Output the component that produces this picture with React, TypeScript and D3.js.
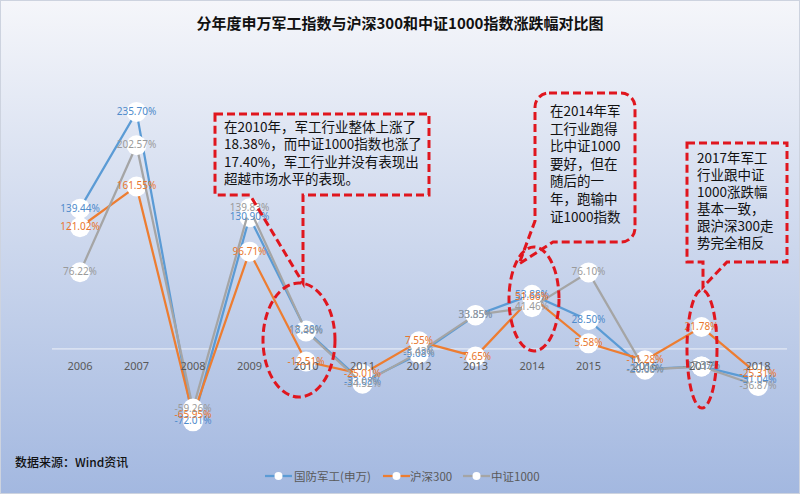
import React from 'react';
import * as d3 from 'd3';

const years = ['2006', '2007', '2008', '2009', '2010', '2011', '2012', '2013', '2014', '2015', '2016', '2017', '2018'];
const junGong = [139.44, 235.7, -72.01, 130.9, 18.38, -33.08, -5.08, 33.35, 53.88, 28.5, -20.06, -17.37, -31.04];
const hs300 = [121.02, 161.55, -65.95, 96.71, -12.51, -25.01, 7.55, -7.65, 51.66, 5.58, -11.28, 21.78, -25.31];
const zz1000 = [76.22, 202.57, -59.26, 139.83, 17.4, -34.52, -3.43, 33.85, 41.46, 76.1, -20.68, -17.35, -36.87];

const seriesNames = ['国防军工(申万)', '沪深300', '中证1000'];
const lineColors = ['#5B9BD5', '#ED7D31', '#A5A5A5'];
const labelColors = ['#4f8bcb', '#e8762d', '#9a9a9a'];

const title = '分年度申万军工指数与沪深300和中证1000指数涨跌幅对比图';
const sourceText = '数据来源：Wind资讯';
const note2010 = ['在2010年，军工行业整体上涨了', '18.38%，而中证1000指数也涨了', '17.40%，军工行业并没有表现出', '超越市场水平的表现。'];
const note2014 = ['在2014年军', '工行业跑得', '比中证1000', '要好，但在', '随后的一', '年，跑输中', '证1000指数'];
const note2017 = ['2017年军工', '行业跟中证', '1000涨跌幅', '基本一致，', '跟沪深300走', '势完全相反'];

const W = 800;
const H = 494;
const cjk = '"Noto Sans CJK SC", "Noto Sans", sans-serif';
const red = '#e0161e';

export default function App() {
  const x = d3.scalePoint<string>().domain(years).range([80, 758]);
  const y = d3.scaleLinear().domain([-100, 250]).range([449.5, 97.5]);
  const allSeries = [junGong, hs300, zz1000];
  const line = d3
    .line<number>()
    .x((_, i) => x(years[i]) as number)
    .y((d) => y(d));
  const fmt = (v: number) => v.toFixed(2) + '%';

  const dashProps = {
    fill: 'none',
    stroke: red,
    strokeWidth: 3,
    strokeDasharray: '8 4',
    strokeLinejoin: 'miter' as const,
  };

  const legendItems = [
    { x0: 265, tx: 294 },
    { x0: 383, tx: 410 },
    { x0: 463, tx: 491 },
  ];

  return (
    <svg width={W} height={H} style={{ position: 'absolute', left: 0, top: 0 }}>
      <defs>
        <linearGradient id="bg" x1="0" y1="0" x2="0" y2="1">
          <stop offset="0" stopColor="#f5f6fa" />
          <stop offset="1" stopColor="#a3b8e0" />
        </linearGradient>
      </defs>
      <rect x={0.5} y={0.5} width={W - 1} height={H - 1} fill="url(#bg)" stroke="#cdd3df" />

      <text x={400} y={29} textAnchor="middle" fontFamily={cjk} fontWeight={700} fontSize={15} fill="#111">
        {title}
      </text>

      {/* zero line */}
      <line x1={52} x2={787} y1={y(0)} y2={y(0)} stroke="#eef1f8" strokeWidth={1} />

      {/* series lines and markers */}
      {allSeries.map((s, si) => (
        <g key={'s' + si}>
          <path d={line(s) as string} fill="none" stroke={lineColors[si]} strokeWidth={2.25} />
          {s.map((v, i) => (
            <circle key={i} cx={x(years[i])} cy={y(v)} r={10} fill="#ffffff" />
          ))}
        </g>
      ))}

      {/* category labels */}
      {years.map((yr) => (
        <text
          key={yr}
          x={x(yr)}
          y={y(0) + 17}
          textAnchor="middle"
          dominantBaseline="central"
          fontFamily='"Noto Sans", sans-serif'
          fontSize={11}
          fill="#595959"
        >
          {yr}
        </text>
      ))}

      {/* data labels */}
      {allSeries.map((s, si) => (
        <g key={'l' + si}>
          {s.map((v, i) => (
            <text
              key={i}
              x={x(years[i])}
              y={y(v) - 1}
              textAnchor="middle"
              dominantBaseline="central"
              fontFamily='"Noto Sans", sans-serif'
              fontSize={10}
              fill={labelColors[si]}
            >
              {fmt(v)}
            </text>
          ))}
        </g>
      ))}

      {/* callout 2010 */}
      <path d="M215,114 H429 V195 H303 L303,283 L250,195 H215 Z" {...dashProps} />
      {note2010.map((t, i) => (
        <text key={i} x={224} y={132 + i * 17.3} fontFamily={cjk} fontSize={13.5} fill="#111">
          {t}
        </text>
      ))}
      <ellipse cx={299} cy={340} rx={36} ry={57} {...dashProps} />

      {/* callout 2014 */}
      <path
        d="M549,93 H621 A14,14 0 0 1 635,107 V228 A14,14 0 0 1 621,242 H553 L519,264 L535,221 V107 A14,14 0 0 1 549,93 Z"
        {...dashProps}
        strokeLinejoin="round"
      />
      {note2014.map((t, i) => (
        <text key={i} x={550} y={116 + i * 17.6} fontFamily={cjk} fontSize={13.5} fill="#111">
          {t}
        </text>
      ))}
      <ellipse cx={534} cy={299} rx={25} ry={52} {...dashProps} />

      {/* callout 2017 */}
      <path d="M687,143 H787 V262 H727 L703,287 L703,262 H687 Z" {...dashProps} />
      {note2017.map((t, i) => (
        <text key={i} x={697} y={163 + i * 17} fontFamily={cjk} fontSize={13.5} fill="#111">
          {t}
        </text>
      ))}
      <ellipse cx={702} cy={349} rx={15} ry={59} {...dashProps} />

      {/* source */}
      <text x={15} y={467} fontFamily={cjk} fontSize={12} fontWeight={500} fill="#111">
        {sourceText}
      </text>

      {/* legend */}
      {legendItems.map((it, i) => (
        <g key={'lg' + i}>
          <line x1={it.x0} x2={it.x0 + 27} y1={476} y2={476} stroke={lineColors[i]} strokeWidth={2.25} />
          <circle cx={it.x0 + 13.5} cy={476} r={4} fill="#ffffff" />
          <text x={it.tx} y={476} dominantBaseline="central" fontFamily={cjk} fontSize={11.5} fill="#595959">
            {seriesNames[i]}
          </text>
        </g>
      ))}
    </svg>
  );
}
